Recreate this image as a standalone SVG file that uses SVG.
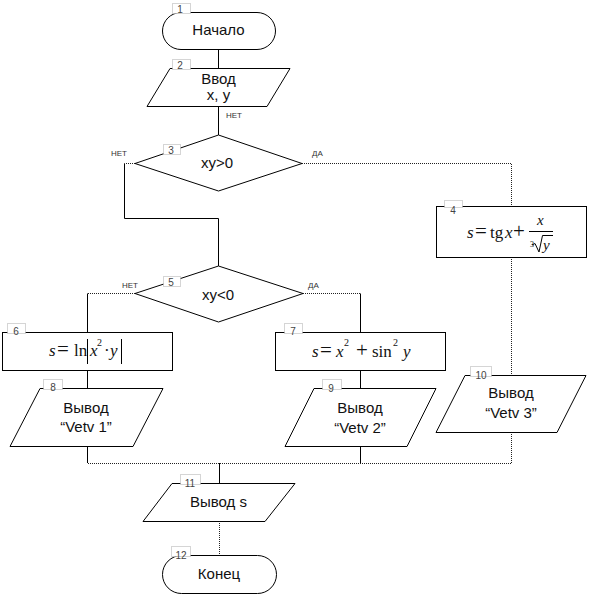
<svg xmlns="http://www.w3.org/2000/svg" width="590" height="596" viewBox="0 0 590 596">
<style>
.sh{fill:#fff;stroke:#000;stroke-width:1}
.c{fill:none;stroke:#000;stroke-width:1}
.d{fill:none;stroke:#222;stroke-width:1;stroke-dasharray:1 1}
.t{font-family:"Liberation Sans",Arial,sans-serif;font-size:15px;fill:#111;text-anchor:middle}
.lb{fill:#fff;stroke:#aaa;stroke-width:1;stroke-dasharray:1 1}
.n{font-family:"Liberation Sans",Arial,sans-serif;font-size:10px;fill:#444;text-anchor:middle}
.yn{font-family:"Liberation Sans",Arial,sans-serif;font-size:8px;fill:#333}
.m{font-family:"Liberation Serif","Times New Roman",serif;font-size:17px;fill:#111}
.i{font-style:italic}
.op{font-size:21px}
.sup{font-size:10px}
</style>
<rect width="590" height="596" fill="#fff"/>
<g id="connectors">
<path class="c" d="M218.5,49V68M218.5,106V135"/>
<path class="d" d="M135,163.5H124.5"/>
<path class="c" d="M124.5,163.5V218.5H218.5V266"/>
<path class="d" d="M302,163.5H511.5V206M511.5,257V375"/>
<path class="d" d="M135,293.5H87.5"/>
<path class="c" d="M87.5,293.5V332"/>
<path class="d" d="M303,293.5H360.5"/>
<path class="c" d="M360.5,293.5V332"/>
<path class="c" d="M87.5,370V388M360.5,370V388M87.5,446V463M360.5,446V463M219.5,463V483"/>
<path class="d" d="M511.5,432V463.5H87.5M219.5,521V555"/>
<text class="yn" x="226" y="118">НЕТ</text>
<text class="yn" x="111" y="156">НЕТ</text>
<text class="yn" x="312" y="156">ДА</text>
<text class="yn" x="122" y="288">НЕТ</text>
<text class="yn" x="308" y="288">ДА</text>
</g>
<g id="n1">
<rect class="sh" x="162.5" y="12.5" width="113" height="37" rx="18.5"/>
<rect class="lb" x="172.5" y="3.5" width="18" height="10"/>
<text class="n" x="180" y="13">1</text>
<text class="t" x="218.5" y="35">Начало</text>
</g>
<g id="n2">
<polygon class="sh" points="170,68.5 290,68.5 267,106.5 147,106.5"/>
<rect class="lb" x="172.5" y="59.5" width="18" height="10"/>
<text class="n" x="180" y="69">2</text>
<text class="t" x="218.5" y="84">Ввод</text>
<text class="t" x="218.5" y="100">x, y</text>
</g>
<g id="n3">
<polygon class="sh" points="218.5,135 302,163.5 218.5,191 135,163.5"/>
<rect class="lb" x="163.5" y="144.5" width="17" height="10"/>
<text class="n" x="171" y="154">3</text>
<text class="t" x="217" y="168">xy&gt;0</text>
</g>
<g id="n4">
<rect class="sh" x="436.5" y="206.5" width="150" height="51"/>
<rect class="lb" x="444.5" y="200.5" width="18" height="7" stroke="none"/>
<text class="n" x="453" y="214">4</text>
<text class="m"><tspan class="i" x="467" y="238">s</tspan><tspan class="op" x="475" y="238">=</tspan><tspan x="490" y="238">tg</tspan><tspan class="i" x="505" y="238">x</tspan><tspan class="op" x="513" y="238">+</tspan><tspan class="i" x="537" y="225" font-size="15">x</tspan><tspan x="530" y="247" font-size="8">3</tspan><tspan class="i" x="543" y="250" font-size="15">y</tspan></text>
<path class="c" d="M529,231.5H553M532,245L535,243.5L539,252L542.5,235.5H553"/>
</g>
<g id="n5">
<polygon class="sh" points="218.5,266 303,293.5 218.5,322 135,293.5"/>
<rect class="lb" x="163.5" y="276.5" width="17" height="10"/>
<text class="n" x="171" y="286">5</text>
<text class="t" x="218" y="300">xy&lt;0</text>
</g>
<g id="n6">
<rect class="sh" x="2.5" y="332.5" width="170" height="38"/>
<rect class="lb" x="7.5" y="323.5" width="18" height="10"/>
<text class="n" x="16" y="335">6</text>
<text class="m"><tspan class="i" x="49" y="356">s</tspan><tspan class="op" x="57" y="356">=</tspan><tspan x="74" y="356">ln</tspan><tspan class="i" x="90" y="356">x</tspan><tspan class="sup" x="97" y="346">2</tspan><tspan x="104" y="356">·</tspan><tspan class="i" x="110" y="356">y</tspan></text>
<path class="c" d="M87.5,339V364M121.5,339V364"/>
</g>
<g id="n7">
<rect class="sh" x="275.5" y="332.5" width="170" height="38"/>
<rect class="lb" x="284.5" y="323.5" width="18" height="10"/>
<text class="n" x="293" y="335">7</text>
<text class="m"><tspan class="i" x="336" y="357">x</tspan><tspan class="i" x="312" y="357">s</tspan><tspan class="op" x="320" y="357">=</tspan><tspan class="sup" x="344" y="346">2</tspan><tspan class="op" x="356" y="357">+</tspan><tspan x="372" y="357">sin</tspan><tspan class="sup" x="393" y="346">2</tspan><tspan class="i" x="403" y="357">y</tspan></text>
</g>
<g id="n8">
<polygon class="sh" points="40,388.5 163,388.5 133,446.5 10,446.5"/>
<rect class="lb" x="43.5" y="379.5" width="19" height="10"/>
<text class="n" x="53" y="391">8</text>
<text class="t" x="86" y="413">Вывод</text>
<text class="t" x="86" y="432">“Vetv 1”</text>
</g>
<g id="n9">
<polygon class="sh" points="314,388.5 436,388.5 407,446.5 285,446.5"/>
<rect class="lb" x="322.5" y="379.5" width="19" height="10"/>
<text class="n" x="331" y="392">9</text>
<text class="t" x="360" y="413">Вывод</text>
<text class="t" x="360" y="433">“Vetv 2”</text>
</g>
<g id="n10">
<polygon class="sh" points="465,375.5 586,375.5 557,432.5 436,432.5"/>
<rect class="lb" x="470.5" y="366.5" width="21" height="10"/>
<text class="n" x="481" y="379">10</text>
<text class="t" x="511" y="398">Вывод</text>
<text class="t" x="511" y="418">“Vetv 3”</text>
</g>
<g id="n11">
<polygon class="sh" points="172,483.5 295,483.5 265,521.5 143,521.5"/>
<rect class="lb" x="180.5" y="474.5" width="20" height="10"/>
<text class="n" x="190" y="487">11</text>
<text class="t" x="218.5" y="507">Вывод s</text>
</g>
<g id="n12">
<rect class="sh" x="162.5" y="555.5" width="114" height="38" rx="19"/>
<rect class="lb" x="171.5" y="546.5" width="19" height="10"/>
<text class="n" x="181" y="559">12</text>
<text class="t" x="219" y="579">Конец</text>
</g>
</svg>
